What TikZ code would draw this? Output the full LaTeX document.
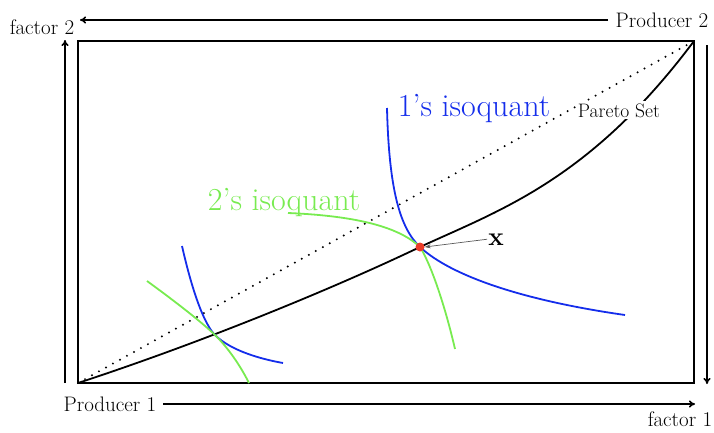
\documentclass[tikz,border=0pt]{standalone}
\usetikzlibrary{arrows.meta}
\definecolor{isoblue}{RGB}{20,45,235}
\definecolor{isogreen}{RGB}{120,235,80}
\definecolor{dotred}{RGB}{235,60,40}
\begin{document}
\begin{tikzpicture}[x=1pt,y=-1pt,
  lbl/.style={font=\fontsize{21}{24}\selectfont,anchor=base,inner sep=1pt},
  axisarrow/.style={line width=1.6pt,-{To[length=6pt,width=7pt]}},
  curve/.style={line width=1.8pt},
  isolbl/.style={font=\fontsize{32}{36}\selectfont,anchor=base,inner sep=0pt}]
\useasboundingbox (0,0) rectangle (714,432);
% box
\draw[line width=1.8pt] (78,41) rectangle (694,383);
\coordinate (ll) at (78,383);
\coordinate (ur) at (694,41);
% labels
\node[lbl] (f2) at (42,34) {factor 2};
\node[lbl] (p2) at (662,27) {Producer 2};
\node[lbl] (p1) at (110,411) {Producer 1};
\node[lbl] (f1) at (680,426) {factor 1};
% arrows
\coordinate (topstart) at (608,20);
\coordinate (topend) at (80,20);
\coordinate (leftstart) at (65,383);
\coordinate (leftend) at (65,40);
\coordinate (rightstart) at (707,45);
\coordinate (rightend) at (707,384);
\coordinate (botstart) at (163,404);
\coordinate (botend) at (695,404);
\draw[axisarrow] (topstart) -- (topend);
\draw[axisarrow] (leftstart) -- (leftend);
\draw[axisarrow] (rightstart) -- (rightend);
\draw[axisarrow] (botstart) -- (botend);
% dotted diagonal
\draw[line width=2.2pt,line cap=round,dash pattern=on 0pt off 8pt] (ll) -- (ur);
% Pareto set
\coordinate (px) at (420,247);
\coordinate (sx) at (216,336);
\draw[curve] (ll) .. controls (200,343) and (330,290) .. (px)
  .. controls (500,210) and (590,180) .. (ur);
% big isoquants
\draw[curve,isoblue] (387,108) .. controls (389,190) and (400,228) .. (px)
  .. controls (450,275) and (520,300) .. (625,315);
\draw[curve,isogreen] (288,213) .. controls (360,216) and (400,228) .. (px)
  .. controls (432,266) and (446,310) .. (455,349);
% small isoquants
\draw[curve,isoblue] (182,246) .. controls (192,290) and (204,325) .. (sx)
  .. controls (230,349) and (255,358) .. (283,363);
\draw[curve,isogreen] (147,281) .. controls (180,305) and (205,325) .. (sx)
  .. controls (228,348) and (240,365) .. (249,383);
% Pareto label (covers lines)
\node[font=\fontsize{19.5}{23}\selectfont,anchor=base,fill=white,inner sep=2pt] (pareto) at (619,117) {Pareto Set};
% isoquant labels
\node[isolbl,text=isoblue] (iso1) at (474,116) {1's isoquant};
\node[isolbl,text=isogreen] (iso2) at (284,210) {2's isoquant};
% point x
\node[circle,fill=dotred,inner sep=0pt,minimum size=9pt] (pt) at (px) {};
\node[font=\fontsize{26}{30}\selectfont\bfseries,anchor=base,inner sep=1pt] (xl) at (496,245) {x};
\draw[gray!70!black,line width=0.7pt,-{Stealth[length=6pt,width=4pt]}] (xl.west) -- (pt.east);
\end{tikzpicture}
\end{document}
